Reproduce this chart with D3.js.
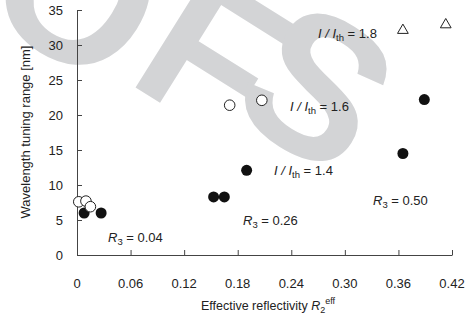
<!DOCTYPE html>
<html>
<head>
<meta charset="utf-8">
<script src="https://cdn.jsdelivr.net/npm/d3@7"></script>
<style>
  body { margin: 0; background: #fff; }
  text { font-family: 'Liberation Sans', Arial, sans-serif; fill: #222; }
</style>
</head>
<body>
<div id="chart"></div>
<script>
// values
const xTicks = [0, 0.06, 0.12, 0.18, 0.24, 0.30, 0.36, 0.42]
const xTickLabels = ['0', '0.06', '0.12', '0.18', '0.24', '0.30', '0.36', '0.42']
const yTicks = [0, 5, 10, 15, 20, 25, 30, 35]

// I/Ith = 1.4 (filled circles)
const filledX = [0.008, 0.027, 0.153, 0.165, 0.190, 0.365, 0.389]
const filledY = [6.0, 6.0, 8.3, 8.3, 12.1, 14.5, 22.2]
// I/Ith = 1.6 (open circles)
const openX = [0.002, 0.010, 0.015, 0.171, 0.207]
const openY = [7.6, 7.7, 6.9, 21.4, 22.1]
// I/Ith = 1.8 (open triangles)
const triX = [0.365, 0.413]
const triY = [32.1, 32.9]

const width = 470
const height = 320
const margin = { top: 10, right: 18, bottom: 65, left: 77 }

const svg = d3.select('#chart')
  .append('svg')
  .attr('width', width)
  .attr('height', height)

// watermark behind the chart
const mark = svg.append('g')
  .attr('transform', 'translate(133,93) rotate(32)')
  .style('font-size', '200px')
  .style('font-weight', 'bold')
mark.selectAll('text')
  .data([['O', -178, 13], ['F', -14, -6], ['S', 86, -34]])
  .join('text')
  .attr('x', (d) => d[1])
  .attr('y', (d) => d[2])
  .style('fill', '#d3d4d6')
  .text((d) => d[0])

const x = d3.scaleLinear().domain([0, 0.42]).range([margin.left, width - margin.right])
const y = d3.scaleLinear().domain([0, 35]).range([height - margin.bottom, margin.top])

const axisColor = '#444'

const xAxis = svg.append('g')
  .attr('transform', `translate(0,${y(0)})`)
  .call(d3.axisBottom(x).tickValues(xTicks).tickSizeInner(-5).tickSizeOuter(0).tickPadding(0).tickFormat(''))
xAxis.select('.domain').attr('stroke', axisColor)
xAxis.selectAll('.tick line').attr('stroke', axisColor)

svg.append('g')
  .selectAll('text')
  .data(xTicks)
  .join('text')
  .attr('x', (d) => x(d))
  .attr('y', y(0) + 33)
  .attr('text-anchor', 'middle')
  .style('font-size', '13px')
  .text((d, i) => xTickLabels[i])

const yAxis = svg.append('g')
  .attr('transform', `translate(${x(0)},0)`)
  .call(d3.axisLeft(y).tickValues(yTicks).tickSizeInner(-5).tickSizeOuter(0).tickFormat(''))
yAxis.select('.domain').attr('stroke', axisColor)
yAxis.selectAll('.tick line').attr('stroke', axisColor)

svg.append('g')
  .selectAll('text')
  .data(yTicks)
  .join('text')
  .attr('x', x(0) - 14)
  .attr('y', (d) => y(d) + 5)
  .attr('text-anchor', 'end')
  .style('font-size', '13px')
  .text((d) => d)

// axis titles
const xTitle = svg.append('text')
  .attr('x', 268)
  .attr('y', 310)
  .attr('text-anchor', 'middle')
  .style('font-size', '12.5px')
xTitle.append('tspan').text('Effective reflectivity ')
xTitle.append('tspan').style('font-style', 'italic').text('R')
xTitle.append('tspan').attr('dy', 3).style('font-size', '9px').text('2')
xTitle.append('tspan').attr('dy', -9).style('font-size', '9px').text('eff')

svg.append('text')
  .attr('transform', 'translate(30,132) rotate(-90)')
  .attr('text-anchor', 'middle')
  .style('font-size', '13px')
  .text('Wavelength tuning range [nm]')

// marks
svg.append('g')
  .selectAll('circle')
  .data(filledX.map((v, i) => [v, filledY[i]]))
  .join('circle')
  .attr('cx', (d) => x(d[0]))
  .attr('cy', (d) => y(d[1]))
  .attr('r', 5.5)
  .attr('fill', '#111')

svg.append('g')
  .selectAll('circle')
  .data(openX.map((v, i) => [v, openY[i]]))
  .join('circle')
  .attr('cx', (d) => x(d[0]))
  .attr('cy', (d) => y(d[1]))
  .attr('r', 5.3)
  .attr('fill', '#fff')
  .attr('stroke', '#222')
  .attr('stroke-width', 1)

svg.append('g')
  .selectAll('path')
  .data(triX.map((v, i) => [v, triY[i]]))
  .join('path')
  .attr('transform', (d) => `translate(${x(d[0])},${y(d[1])})`)
  .attr('d', d3.symbol(d3.symbolTriangle, 50))
  .attr('fill', 'none')
  .attr('stroke', '#222')
  .attr('stroke-width', 1)

// annotations
function rLabel (tx, ty, value) {
  const t = svg.append('text').attr('x', tx).attr('y', ty).style('font-size', '13px')
  t.append('tspan').style('font-style', 'italic').text('R')
  t.append('tspan').attr('dy', 3).style('font-size', '9.5px').text('3')
  t.append('tspan').attr('dy', -3).text(' = ' + value)
}
rLabel(108, 242, '0.04')
rLabel(243, 225, '0.26')
rLabel(373, 205, '0.50')

function iLabel (tx, ty, value) {
  const t = svg.append('text').attr('x', tx).attr('y', ty).style('font-size', '13px')
  t.append('tspan').style('font-style', 'italic').text('I / I')
  t.append('tspan').attr('dy', 3).style('font-size', '9.5px').text('th')
  t.append('tspan').attr('dy', -3).text(' = ' + value)
}
iLabel(318, 38, '1.8')
iLabel(290, 111, '1.6')
iLabel(274, 175, '1.4')
</script>
</body>
</html>
